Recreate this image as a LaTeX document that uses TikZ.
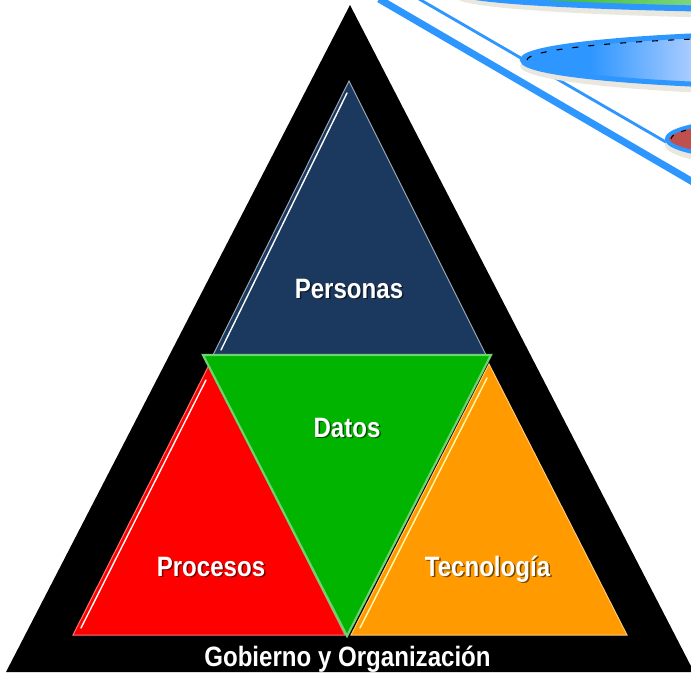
\documentclass[tikz,border=0pt]{standalone}
\usepackage{fontspec}
\newfontfamily\labfont{Liberation Sans}[FakeStretch=0.86]
\definecolor{navy}{RGB}{27,57,94}
\definecolor{dgreen}{RGB}{0,180,0}
\definecolor{lgreen}{RGB}{110,210,110}
\definecolor{pred}{RGB}{255,0,0}
\definecolor{porange}{RGB}{255,155,0}
\definecolor{lblue}{RGB}{45,150,255}
\definecolor{lbluehi}{RGB}{180,208,255}
\definecolor{egreen}{RGB}{60,190,60}
\definecolor{egreenhi}{RGB}{130,215,130}
\definecolor{ered}{RGB}{192,80,77}
\definecolor{beige}{RGB}{234,232,222}
\tikzset{
  lbl/.style={font=\labfont\bfseries\fontsize{28}{30}\selectfont, text=white, anchor=base, inner sep=0pt},
  lblshadow/.style={lbl, text=black, opacity=0.55},
  hilite/.style={white, line width=1.4, line cap=round},
  bluestroke/.style={draw=lblue},
}
\begin{document}
\begin{tikzpicture}[x=1pt,y=-1pt]
\useasboundingbox (0,0) rectangle (691,674);
\clip (0,0) rectangle (691,674);
\fill[white] (0,0) rectangle (691,674);

% ---------- top-right decoration ----------
\coordinate (thickA) at (379,-1);
\coordinate (thickB) at (722,199);
\coordinate (thinA) at (419,-1);
\coordinate (thinB) at (690,156);
\draw[lblue, line width=7] (thickA) -- (thickB);
\draw[lblue, line width=2.8] (thinA) -- (thinB);

% shadows
\fill[beige] (857,-2) ellipse [x radius=400, y radius=21];
\fill[beige] (850,66) ellipse [x radius=330, y radius=30];
\fill[beige] (775,145) ellipse [x radius=110, y radius=22];

% top green ellipse
\begin{scope}
  \clip (857,-8) ellipse [x radius=397, y radius=18];
  \fill[egreen] (440,-40) rectangle (700,40);
  \shade[left color=egreen, right color=egreenhi] (560,-40) rectangle (700,40);
\end{scope}
\draw[lblue, line width=6] (857,-8) ellipse [x radius=397, y radius=18];

% middle blue ellipse
\begin{scope}
  \clip (850,60) ellipse [x radius=327.5, y radius=27.5];
  \fill[lblue] (500,20) rectangle (700,100);
  \shade[left color=lblue, right color=lbluehi] (590,20) rectangle (700,100);
\end{scope}
\draw[lblue, line width=5] (850,60) ellipse [x radius=327.5, y radius=27.5];
\draw[black, line width=1.1, dash pattern=on 6pt off 10pt]
  (850,60) ++(180:323 and 24) arc[start angle=180, end angle=255, x radius=323, y radius=24];

% red ellipse
\fill[ered] (775,139) ellipse [x radius=108, y radius=20];
\draw[lblue, line width=4] (775,139) ellipse [x radius=108, y radius=20];
\draw[black, line width=1.1, dash pattern=on 5pt off 8pt]
  (775,139) ++(180:104 and 17) arc[start angle=180, end angle=250, x radius=104, y radius=17];

% ---------- pyramid ----------
\coordinate (BA) at (350,5);
\coordinate (BL) at (6,672);
\coordinate (BR) at (694,672);
\fill[black] (BA) -- (BL) -- (BR) -- cycle;

% Personas
\coordinate (PA) at (349,81);
\coordinate (PL) at (213,355);
\coordinate (PR) at (486,355);
\fill[navy] (PA) -- (PL) -- (PR) -- cycle;
\draw[navy!45!white, line width=1] (PA) -- (PL) -- (PR) -- cycle;
\coordinate (PH1) at (347,93);
\coordinate (PH2) at (221,350);
\draw[hilite] (PH1) -- (PH2);

% Procesos
\coordinate (RA) at (209,365);
\coordinate (RL) at (73,635);
\coordinate (RR) at (345,635);
\fill[pred] (RA) -- (RL) -- (RR) -- cycle;
\draw[pred!55!white, line width=1] (RA) -- (RL) -- (RR) -- cycle;
\coordinate (RH1) at (206,380);
\coordinate (RH2) at (81,628);
\draw[hilite] (RH1) -- (RH2);

% Tecnologia
\coordinate (OA) at (489,364);
\coordinate (OL) at (351,635);
\coordinate (OR) at (627,635);
\fill[porange] (OA) -- (OL) -- (OR) -- cycle;
\draw[porange!55!white, line width=1] (OA) -- (OL) -- (OR) -- cycle;
\coordinate (OH1) at (487,378);
\coordinate (OH2) at (360,628);
\draw[hilite, white!70!yellow] (OH1) -- (OH2);

% Datos
\coordinate (DL) at (203,355);
\coordinate (DR) at (491,355);
\coordinate (DB) at (347,636);
\fill[dgreen] (DL) -- (DR) -- (DB) -- cycle;
\draw[lgreen, line width=2.2, line join=miter] (DL) -- (DR) -- (DB) -- cycle;

% ---------- labels ----------
\node[lblshadow] (personasS) at (350.5,299.5) {Personas};
\node[lbl] (personas) at (349,298) {Personas};
\node[lblshadow] (datosS) at (348.5,438.5) {Datos};
\node[lbl] (datos) at (347,437) {Datos};
\node[lblshadow] (procesosS) at (212.5,577.5) {Procesos};
\node[lbl] (procesos) at (211,576) {Procesos};
\node[lblshadow] (tecnoS) at (489,577.5) {Tecnología};
\node[lbl] (tecno) at (487.5,576) {Tecnología};
\node[lbl] (gob) at (347.5,666) {Gobierno y Organización};
\end{tikzpicture}
\end{document}
